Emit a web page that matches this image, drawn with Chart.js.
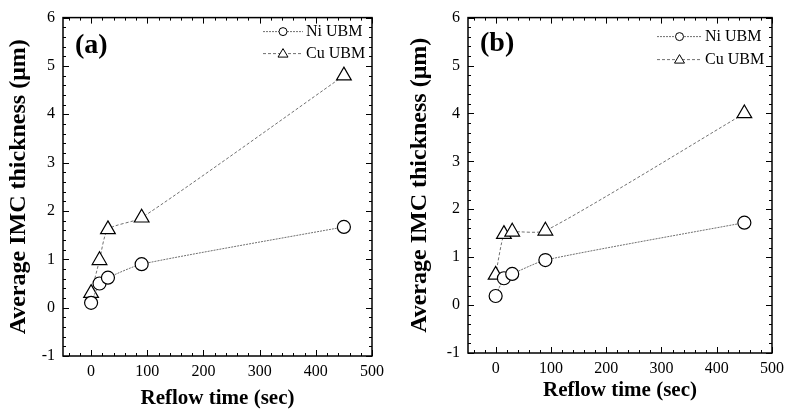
<!DOCTYPE html>
<html lang="en">
<head>
<meta charset="UTF-8">
<title>Average IMC thickness vs reflow time</title>
<script src="https://cdn.jsdelivr.net/npm/chart.js"></script>
<style>
  body { margin: 0; background: #fff; }
  .panel { position: absolute; top: 0; width: 395px; height: 413px; }
  #panel-a { left: 0; }
  #panel-b { left: 395px; }
</style>
</head>
<body>
<div class="panel" id="panel-a"><canvas id="chart-a"></canvas></div>
<div class="panel" id="panel-b"><canvas id="chart-b"></canvas></div>

<script>
// data
const reflowTimes = [0, 15, 30, 90, 450];
const niUbmA = [0.10, 0.50, 0.62, 0.90, 1.67];
const cuUbmA = [0.30, 0.98, 1.62, 1.86, 4.80];
const niUbmB = [0.19, 0.56, 0.65, 0.94, 1.72];
const cuUbmB = [0.63, 1.48, 1.53, 1.55, 4.00];
const seriesNames = ['Ni UBM', 'Cu UBM'];
const xTickValues = [0, 100, 200, 300, 400, 500];
const yTickValues = [-1, 0, 1, 2, 3, 4, 5, 6];

const SERIF = "'Liberation Serif', 'Times New Roman', serif";

// frame + inward ticks on all four sides, like the original plots
const frameTicks = {
  id: 'frameTicks',
  afterDatasetsDraw(chart) {
    const { ctx, chartArea: a, scales: { x, y } } = chart;
    ctx.save();
    ctx.strokeStyle = '#000';
    ctx.lineWidth = 1.5;
    ctx.strokeRect(a.left, a.top, a.right - a.left, a.bottom - a.top);
    ctx.lineWidth = 1;
    ctx.beginPath();
    for (let v = -40; v <= 500; v += 20) {
      const px = Math.round(x.getPixelForValue(v)) + 0.5;
      const len = v % 100 === 0 ? 6 : 3;
      ctx.moveTo(px, a.bottom); ctx.lineTo(px, a.bottom - len);
      ctx.moveTo(px, a.top); ctx.lineTo(px, a.top + len);
    }
    for (let i = -5; i <= 30; i++) {
      const v = i / 5;
      const py = Math.round(y.getPixelForValue(v)) + 0.5;
      const len = i % 5 === 0 ? 6 : 3;
      ctx.moveTo(a.left, py); ctx.lineTo(a.left + len, py);
      ctx.moveTo(a.right, py); ctx.lineTo(a.right - len, py);
    }
    ctx.stroke();
    ctx.restore();
  }
};

// in-plot legend (top right) and panel letter (top left)
const insetLabels = {
  id: 'insetLabels',
  afterDraw(chart, args, opts) {
    const { ctx, chartArea: a } = chart;
    ctx.save();
    ctx.fillStyle = '#000';
    ctx.font = 'bold 28px ' + SERIF;
    ctx.textBaseline = 'middle';
    ctx.textAlign = 'left';
    ctx.fillText(opts.panel, a.left + 12, a.top + opts.panelY);

    ctx.font = '16px ' + SERIF;
    chart.data.datasets.forEach((ds, i) => {
      const yy = a.top + opts.rows[i];
      const x0 = a.right - opts.lineFrom;
      const x1 = x0 + opts.lineLen;
      ctx.strokeStyle = ds.borderColor;
      ctx.lineWidth = 1;
      ctx.setLineDash(ds.borderDash);
      ctx.beginPath(); ctx.moveTo(x0, yy); ctx.lineTo(x1, yy); ctx.stroke();
      ctx.setLineDash([]);
      const mx = (x0 + x1) / 2;
      ctx.strokeStyle = '#000';
      ctx.fillStyle = '#fff';
      ctx.beginPath();
      if (ds.pointStyle === 'triangle') {
        ctx.moveTo(mx, yy - 5); ctx.lineTo(mx + 5, yy + 3.5); ctx.lineTo(mx - 5, yy + 3.5); ctx.closePath();
      } else {
        ctx.arc(mx, yy, 4, 0, Math.PI * 2);
      }
      ctx.fill(); ctx.stroke();
      ctx.fillStyle = '#000';
      ctx.fillText(ds.label, x1 + 3, yy);
    });
    ctx.restore();
  }
};

function makeDatasets(ni, cu) {
  return [
    {
      label: seriesNames[0],
      data: reflowTimes.map((t, i) => ({ x: t, y: ni[i] })),
      borderColor: '#707070', borderWidth: 1, borderDash: [2, 1],
      pointStyle: 'circle', pointRadius: 6.5, pointBorderWidth: 1.2,
      pointBorderColor: '#000', pointBackgroundColor: '#fff',
      tension: 0.2
    },
    {
      label: seriesNames[1],
      data: reflowTimes.map((t, i) => ({ x: t, y: cu[i] })),
      borderColor: '#707070', borderWidth: 1, borderDash: [3, 2],
      pointStyle: 'triangle', pointRadius: 8.5, pointBorderWidth: 1.2,
      pointBorderColor: '#000', pointBackgroundColor: '#fff',
      tension: 0.2
    }
  ];
}

function drawPanel(id, ni, cu, cfg) {
  new Chart(document.getElementById(id), {
    type: 'line',
    data: { datasets: makeDatasets(ni, cu) },
    plugins: [frameTicks, insetLabels],
    options: {
      responsive: true,
      maintainAspectRatio: false,
      animation: false,
      layout: { padding: cfg.padding },
      plugins: {
        legend: { display: false },
        tooltip: { enabled: false },
        insetLabels: cfg.inset
      },
      scales: {
        x: {
          type: 'linear', min: -50, max: 500,
          afterBuildTicks: s => { s.ticks = xTickValues.map(v => ({ value: v })); },
          afterFit: s => { s.height = cfg.xHeight; },
          grid: { display: false, drawTicks: false },
          border: { display: false },
          ticks: { color: '#000', padding: 6, font: { family: SERIF, size: 16 } },
          title: { display: true, text: 'Reflow time (sec)', color: '#000', padding: 0,
                   font: { family: SERIF, size: 21, weight: 'bold' } }
        },
        y: {
          type: 'linear', min: -1, max: 6,
          afterBuildTicks: s => { s.ticks = yTickValues.map(v => ({ value: v })); },
          afterFit: s => { s.width = cfg.yWidth; },
          grid: { display: false, drawTicks: false },
          border: { display: false },
          ticks: { color: '#000', padding: 8, font: { family: SERIF, size: 16 } },
          title: { display: true, text: 'Average IMC thickness (μm)', color: '#000', padding: { top: 4, bottom: 0 },
                   font: { family: SERIF, size: 24, weight: 'bold' } }
        }
      }
    }
  });
}

drawPanel('chart-a', niUbmA, cuUbmA, {
  padding: { left: 0, right: 23, top: 14, bottom: 2 },
  xHeight: 55, yWidth: 63,
  inset: { panel: '(a)', panelY: 28, rows: [14, 36], lineFrom: 109, lineLen: 40 }
});
drawPanel('chart-b', niUbmB, cuUbmB, {
  padding: { left: 6, right: 13, top: 11, bottom: 10 },
  xHeight: 50, yWidth: 67,
  inset: { panel: '(b)', panelY: 26, rows: [19, 42], lineFrom: 115, lineLen: 45 }
});
</script>
</body>
</html>
